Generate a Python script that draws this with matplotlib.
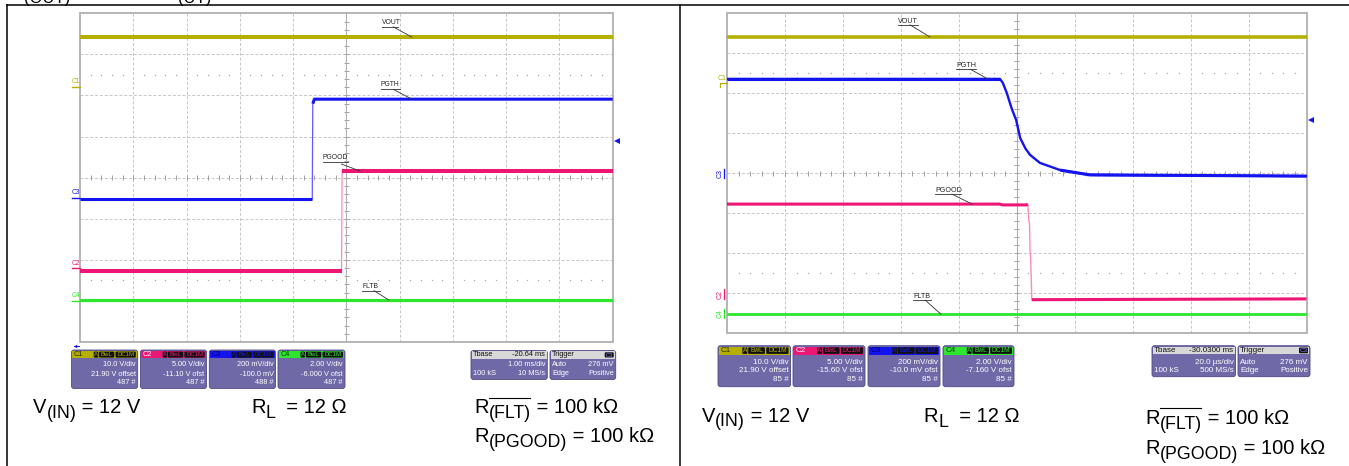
import matplotlib
matplotlib.use('Agg')
import matplotlib.pyplot as plt
from matplotlib.patches import FancyBboxPatch, Rectangle
from matplotlib.collections import LineCollection
import numpy as np

W, H = 1349, 466
plt.rcParams['font.family'] = ['Liberation Sans', 'DejaVu Sans']

# ---------------- data (scope divisions: time 0..10 div, level -4..4 div) ----------------
# Left capture: start-up (1.00 ms/div)
L_vout_t = [0, 10];                         L_vout_v = [3.42, 3.42]
L_pgth_t = [0, 4.36, 4.37, 4.40, 10];       L_pgth_v = [-0.52, -0.52, 1.80, 1.91, 1.91]
L_pgood_t = [0, 4.91, 4.92, 10];            L_pgood_v = [-2.27, -2.27, 0.16, 0.16]
L_fltb_t = [0, 10];                         L_fltb_v = [-2.98, -2.98]
# Right capture: PGTH falling (20.0 us/div)
R_vout_t = [0, 10];                         R_vout_v = [3.41, 3.41]
R_pgth_t = [0, 4.71, 4.76, 4.83, 4.91, 4.99, 5.06, 5.15, 5.23, 5.40, 5.75, 6.26, 10]
R_pgth_v = [2.36, 2.36, 2.26, 2.00, 1.63, 1.33, 0.88, 0.62, 0.46, 0.26, 0.08, -0.04, -0.07]
R_pgood_t = [0, 4.71, 4.75, 5.17, 5.19, 5.21, 5.22, 5.23, 5.24, 5.26, 10]
R_pgood_v = [-0.77, -0.77, -0.79, -0.79, -0.77, -1.19, -1.25, -1.97, -2.10, -3.16, -3.14]
R_fltb_t = [0, 10];                         R_fltb_v = [-3.52, -3.52]

trace_names = ['VOUT', 'PGTH', 'PGOOD', 'FLTB']

L_ch_rows = [["10.0 V/div", "21.90 V offset", "487 #"],
             ["5.00 V/div", "-11.10 V ofst", "487 #"],
             ["200 mV/div", "-100.0 mV", "488 #"],
             ["2.00 V/div", "-6.000 V ofst", "487 #"]]
R_ch_rows = [["10.0 V/div", "21.90 V offset", "85 #"],
             ["5.00 V/div", "-15.60 V ofst", "85 #"],
             ["200 mV/div", "-10.0 mV ofst", "85 #"],
             ["2.00 V/div", "-7.160 V ofst", "85 #"]]
L_tbase = ["-20.64 ms", "1.00 ms/div", "100 kS", "10 MS/s"]
R_tbase = ["-30.0300 ms", "20.0 \u00b5s/div", "100 kS", "500 MS/s"]
trig = ["Auto", "276 mV", "Edge", "Positive"]

YEL, PNK, BLU, GRN = '#b5b000', '#ee1675', '#1414f0', '#2fe62f'
CH_COLORS = [YEL, PNK, BLU, GRN]
CH_NAMES = ['C1', 'C2', 'C3', 'C4']

fig = plt.figure(figsize=(W / 100, H / 100), dpi=100)
ov = fig.add_axes([0, 0, 1, 1])
ov.set_xlim(0, W); ov.set_ylim(H, 0); ov.axis('off')


def px_axes(x0, y0, x1, y1):
    return fig.add_axes([x0 / W, 1 - y1 / H, (x1 - x0) / W, (y1 - y0) / H])


# page frame lines
ov.plot([7, W], [5, 5], color='k', lw=1.1)
ov.plot([7, 7], [5, H], color='k', lw=1.1)
ov.plot([680, 680], [5, H], color='k', lw=1.1)
ov.text(24, 2.5, '(OUT)', fontsize=12, va='baseline', ha='left')
ov.text(178, 2.5, '(UT)', fontsize=12, va='baseline', ha='left')


def draw_scope(ax, xpx, ypx):
    ax.set_xlim(0, 10); ax.set_ylim(-4, 4); ax.axis('off')
    gc = '#c6c6c6'
    for i in range(1, 10):
        ax.plot([i, i], [-4, 4], color=gc, lw=0.7, ls=(0, (3, 2)), zorder=1)
    for j in range(-3, 4):
        ax.plot([0, 10], [j, j], color=gc, lw=0.7, ls=(0, (3, 2)), zorder=1)
    xs = [k * 0.2 for k in range(1, 50) if k % 5]
    for yy in (2.5, -2.5):
        ax.plot(xs, [yy] * len(xs), ls='none', marker='s', ms=0.9, mew=0, color='#a8a8a8', zorder=1)
    tx, ty = 2.5 / xpx, 2.5 / ypx
    segs = [[(5 - tx, -4 + 0.2 * k), (5 + tx, -4 + 0.2 * k)] for k in range(1, 40)]
    segs += [[(0.2 * k, -ty), (0.2 * k, ty)] for k in range(1, 50)]
    ax.add_collection(LineCollection(segs, colors='#a0a0a0', lw=0.7, zorder=1))
    ax.plot([5, 5], [-4, 4], color='#b0b0b0', lw=0.8, zorder=1)
    ax.add_patch(Rectangle((0, -4), 10, 8, fill=False, ec='#b0b0b0', lw=1.3, zorder=2, clip_on=False))


def trace(ax, t, v, color, lw, thin, flats, thin_lw=0.9):
    t = np.asarray(t); v = np.asarray(v)
    ax.plot(t, v, color=thin, lw=thin_lw, zorder=3)
    for a, b in flats:
        ax.plot(t[a:b], v[a:b], color=color, lw=lw, zorder=4, solid_capstyle='butt')


def label(ax, x0, x1, y, yu, leader, text, fs=4.9):
    ax.text(x0, y, text, fontsize=fs, ha='left', va='center', color='#222222', zorder=6)
    ax.plot([x0, x1], [yu, yu], color='#333333', lw=0.6, zorder=6)
    ax.plot(leader[0], leader[1], color='#333333', lw=0.6, zorder=6)


# ---------------- left scope ----------------
axL = px_axes(80, 13.3, 612.7, 342)
draw_scope(axL, 53.27, 41.09)
trace(axL, L_vout_t, L_vout_v, YEL, 2.9, YEL, [(0, 2)])
trace(axL, L_fltb_t, L_fltb_v, GRN, 2.3, GRN, [(0, 2)])
trace(axL, L_pgood_t, L_pgood_v, PNK, 2.9, '#ff8ab8', [(0, 2), (2, 4)])
trace(axL, L_pgth_t, L_pgth_v, BLU, 2.2, '#5c5cff', [(0, 2), (2, 5)])
label(axL, 5.67, 5.97, 3.77, 3.67, ([5.88, 6.23], [3.67, 3.42]), trace_names[0])
label(axL, 5.65, 6.01, 2.26, 2.15, ([5.88, 6.23], [2.15, 1.91]), trace_names[1])
label(axL, 4.56, 5.03, 0.50, 0.39, ([4.91, 5.26], [0.33, 0.16]), trace_names[2])
label(axL, 5.30, 5.63, -2.65, -2.75, ([5.52, 5.80], [-2.75, -2.98]), trace_names[3])
for name, col, ly, my in zip(CH_NAMES, CH_COLORS, [2.34, -2.08, -0.35, -2.87], [2.21, -2.20, -0.49, -2.99]):
    axL.text(-0.16, ly, name, fontsize=4.8, color=col, ha='left', va='center', clip_on=False)
    axL.plot([-0.15, 0], [my, my], color=col, lw=1.0, clip_on=False)
axL.plot([10.09], [0.90], marker='<', ms=4, color=BLU, mew=0, clip_on=False)
ov.plot([74, 79], [345.5, 345.5], color=BLU, lw=0.7)
ov.plot([74.5], [345.5], marker='<', ms=2.5, color=BLU, mew=0)

# ---------------- right scope ----------------
axR = px_axes(727, 13.3, 1306.5, 333.3)
draw_scope(axR, 57.95, 40.0)
trace(axR, R_vout_t, R_vout_v, YEL, 2.6, YEL, [(0, 2)])
trace(axR, R_fltb_t, R_fltb_v, GRN, 2.0, GRN, [(0, 2)])
trace(axR, R_pgood_t, R_pgood_v, PNK, 2.2, '#ff8ab8', [(0, 5), (9, 11)], thin_lw=1.0)
trace(axR, R_pgth_t, R_pgth_v, BLU, 2.2, BLU, [(0, 2), (10, 13)], thin_lw=1.7)
label(axR, 2.95, 3.30, 3.79, 3.71, ([3.16, 3.50], [3.71, 3.41]), trace_names[0], fs=5.1)
label(axR, 3.95, 4.30, 2.69, 2.60, ([4.20, 4.50], [2.60, 2.36]), trace_names[1], fs=5.1)
label(axR, 3.59, 4.04, -0.42, -0.52, ([3.88, 4.23], [-0.52, -0.77]), trace_names[2], fs=5.1)
label(axR, 3.21, 3.52, -3.07, -3.17, ([3.42, 3.69], [-3.17, -3.52]), trace_names[3], fs=5.1)
axR.text(-0.16, 2.36, 'C1', fontsize=5, color=YEL, ha='left', va='center', clip_on=False)
axR.plot([-0.12, -0.12, 0], [2.17, 2.26, 2.26], color=YEL, lw=0.9, clip_on=False)
for name, col, my in zip(['C3', 'C2', 'C4'], [BLU, PNK, GRN], [0.0, -3.02, -3.50]):
    axR.text(-0.125, my, name, fontsize=5, color=col, ha='center', va='center', rotation=90, clip_on=False)
    axR.plot([-0.05, -0.05], [my - 0.12, my + 0.12], color=col, lw=0.9, clip_on=False)
axR.plot([10.08], [1.33], marker='<', ms=4, color=BLU, mew=0, clip_on=False)

# ---------------- info boxes ----------------
BODY, EDGE = '#6f69a7', '#4e4985'
NAME_COL = ['#2a2a00', 'white', '#00006a', '#0a3a0a']


def chan_box(x0, x1, y0, y1, hh, col, name, name_col, rows, row_y, fs):
    w = x1 - x0
    ov.add_patch(FancyBboxPatch((x0, y0), w, y1 - y0, boxstyle='round,pad=0,rounding_size=2.5',
                                fc=BODY, ec=EDGE, lw=0.6))
    ov.add_patch(Rectangle((x0 + 0.8, y0 + 0.8), w - 1.6, hh, fc=col, ec='none'))
    yc = y0 + 0.8 + hh / 2
    ov.text(x0 + 2.2, yc, name, fontsize=fs, color=name_col, va='center', ha='left')
    k = w / 66.2
    for a, b, s in [(-44, -39.4, 'A'), (-38.7, -23.4, 'BwL'), (-22.2, -1.9, 'DC1M')]:
        ov.add_patch(FancyBboxPatch((x1 + a * k, y0 + 1.6), (b - a) * k, hh - 1.6,
                                    boxstyle='round,pad=0,rounding_size=1', fc='#111111', ec='none'))
        ov.text(x1 + (a + b) / 2 * k, yc + 0.2, s, fontsize=fs * 0.82, color=col, ha='center', va='center')
    for ry, r in zip(row_y, rows):
        ov.text(x1 - 2, ry, r, fontsize=fs, color='white', ha='right', va='center')


def info_box(x0, x1, y0, y1, hh, head_l, head_r, rows, row_y, fs, icon=False):
    w = x1 - x0
    ov.add_patch(FancyBboxPatch((x0, y0), w, y1 - y0, boxstyle='round,pad=0,rounding_size=2.5',
                                fc=BODY, ec=EDGE, lw=0.6))
    ov.add_patch(Rectangle((x0 + 0.8, y0 + 0.8), w - 1.6, hh, fc='#d8d8d8', ec='none'))
    yc = y0 + 0.8 + hh / 2
    ov.text(x0 + 2.2, yc, head_l, fontsize=fs, color='#111111', va='center', ha='left')
    if icon:
        ov.add_patch(FancyBboxPatch((x1 - 11, y0 + 1.8), 9, hh - 2,
                                    boxstyle='round,pad=0,rounding_size=1', fc='#111111', ec='none'))
        ov.text(x1 - 6.5, yc + 0.2, head_r, fontsize=fs * 0.8, color='#8080ff', ha='center', va='center')
    else:
        ov.text(x1 - 2, yc, head_r, fontsize=fs, color='#111111', va='center', ha='right')
    for ry, (l, r) in zip(row_y, rows):
        if l:
            ov.text(x0 + 2.2, ry, l, fontsize=fs, color='white', ha='left', va='center')
        if r:
            ov.text(x1 - 2, ry, r, fontsize=fs, color='white', ha='right', va='center')


# left panel boxes
for i, (bx0, bx1) in enumerate([(71.5, 137.7), (140.4, 206.6), (209.3, 275.5), (278.0, 345.0)]):
    chan_box(bx0, bx1, 350.0, 388.5, 7.6, CH_COLORS[i], CH_NAMES[i], NAME_COL[i],
             L_ch_rows[i], [365.0, 374.0, 382.7], 5.3)
info_box(471.0, 547.3, 350.5, 379.5, 7.2, 'Tbase', L_tbase[0],
         [('', L_tbase[1]), (L_tbase[2], L_tbase[3])], [365.0, 373.7], 5.3)
info_box(550.0, 615.7, 350.5, 379.5, 7.2, 'Trigger', 'C3',
         [(trig[0], trig[1]), (trig[2], trig[3])], [365.0, 373.7], 5.3, icon=True)

# right panel boxes
for i, (bx0, bx1) in enumerate([(718.0, 790.6), (793.0, 865.0), (868.0, 940.0), (943.0, 1014.0)]):
    chan_box(bx0, bx1, 345.7, 386.7, 8.2, CH_COLORS[i], CH_NAMES[i], NAME_COL[i],
             R_ch_rows[i], [362.3, 370.9, 379.8], 5.8)
info_box(1152.0, 1235.5, 345.7, 376.7, 7.8, 'Tbase', R_tbase[0],
         [('', R_tbase[1]), (R_tbase[2], R_tbase[3])], [362.3, 370.9], 5.8)
info_box(1238.0, 1310.0, 345.7, 376.7, 7.8, 'Trigger', 'C3',
         [(trig[0], trig[1]), (trig[2], trig[3])], [362.3, 370.9], 5.8, icon=True)

# ---------------- condition texts ----------------
FS = 14.5
SUB_S, SUB_DY = 0.88, 4.8
renderer = fig.canvas.get_renderer()


def rich(x, yb, parts, fs=FS):
    cap = 0.729 * fs * 100 / 72
    for s, kind in parts:
        if kind == 'n':
            t = ov.text(x, yb, s, fontsize=fs, va='baseline', ha='left', color='k')
        else:
            t = ov.text(x, yb + SUB_DY, s, fontsize=fs * SUB_S, va='baseline', ha='left', color='k')
        bb = t.get_window_extent(renderer)
        if kind == 'o':
            ov.plot([x + 0.5, x + bb.width - 0.5], [yb - cap - 1.0] * 2, color='k', lw=0.8)
        x += bb.width


def conditions(xv, yv, xr, yr, xf, yf, yp):
    rich(xv, yv, [('V', 'n'), ('(IN)', 's'), (' = 12 V', 'n')])
    rich(xr, yr, [('R', 'n'), ('L', 's'), ('  = 12 \u03a9', 'n')])
    rich(xf, yf, [('R', 'n'), ('(FLT)', 'o'), (' = 100 k\u03a9', 'n')])
    rich(xf, yp, [('R', 'n'), ('(PGOOD)', 's'), (' = 100 k\u03a9', 'n')])


conditions(33, 413.3, 251, 413.3, 474, 413.3, 442.3)
conditions(702, 421.5, 923.7, 422.0, 1145, 424.0, 454.0)

fig.savefig('out.png', dpi=100)
